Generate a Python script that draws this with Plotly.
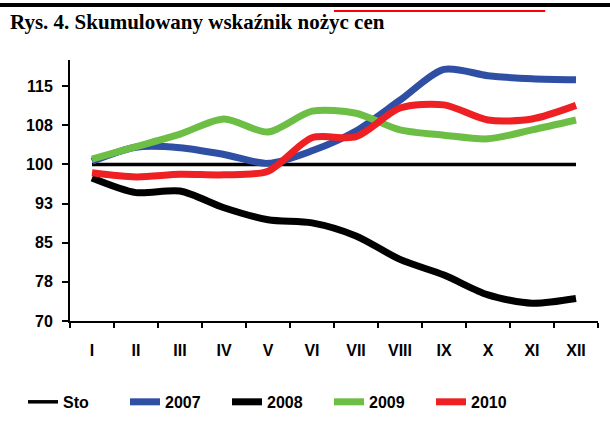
import plotly.graph_objects as go

months = ["I", "II", "III", "IV", "V", "VI", "VII", "VIII", "IX", "X", "XI", "XII"]
sto = [100] * 12
s2007 = [100.6, 103.3, 103.2, 101.9, 100.2, 102.6, 106.4, 112.3, 118.2, 117.0, 116.4, 116.2]
s2008 = [97.4, 94.6, 94.9, 91.7, 89.4, 88.8, 86.3, 81.8, 78.8, 75.0, 73.4, 74.3]
s2009 = [101.0, 103.4, 105.8, 108.7, 106.2, 110.2, 109.8, 106.6, 105.6, 104.9, 106.6, 108.5]
s2010 = [98.4, 97.6, 98.1, 98.0, 98.7, 105.1, 105.3, 110.8, 111.4, 108.5, 108.7, 111.3]

ytick_vals = [70, 77.5, 85, 92.5, 100, 107.5, 115]
ytick_text = ["70", "78", "85", "93", "100", "108", "115"]

series = [
    ("Sto", sto, "#000000", 3.5),
    ("2007", s2007, "#2E4FA3", 7),
    ("2008", s2008, "#000000", 7),
    ("2009", s2009, "#6CBE45", 7),
    ("2010", s2010, "#EE2024", 7),
]

fig = go.Figure()
for name, vals, color, w in series:
    fig.add_trace(go.Scatter(
        x=months, y=vals, name=name, mode="lines",
        line=dict(color=color, width=w, shape="spline", smoothing=0.8),
    ))

font_ax = dict(family="Liberation Sans, Arial, sans-serif", size=16, color="#000000")

fig.update_layout(
    width=610, height=439,
    margin=dict(l=70, r=12, t=60, b=118),
    paper_bgcolor="white", plot_bgcolor="white",
    showlegend=True,
    title=dict(
        text="<b>Rys. 4. Skumulowany wskaźnik nożyc cen</b>",
        font=dict(family="Liberation Serif, Times New Roman, serif", size=21, color="#000000"),
        x=10 / 610, xref="container", xanchor="left",
        y=1 - 22 / 439, yref="container", yanchor="middle",
    ),
    legend=dict(
        orientation="h", x=-0.089, xanchor="left", y=-0.31, yanchor="middle",
        font=dict(family="Liberation Sans, Arial, sans-serif", size=16, color="#000000", weight="bold"),
        entrywidth=57, entrywidthmode="pixels",
        bgcolor="rgba(0,0,0,0)", traceorder="normal",
    ),
    xaxis=dict(
        type="category", range=[-0.5, 11.5],
        showline=True, linecolor="#000000", linewidth=2,
        ticks="outside", ticklen=5, tickwidth=2, tickcolor="#000000",
        tickson="boundaries", showgrid=False, zeroline=False,
        tickfont=dict(font_ax, weight="bold"), ticklabelstandoff=14,
    ),
    yaxis=dict(
        range=[70, 120], tickvals=ytick_vals, ticktext=ytick_text,
        showline=True, linecolor="#000000", linewidth=2,
        ticks="outside", ticklen=6, tickwidth=2, tickcolor="#000000",
        showgrid=False, zeroline=False,
        tickfont=dict(font_ax, weight="bold"), ticklabelstandoff=6,
    ),
    shapes=[
        dict(
            type="rect", xref="paper", yref="paper", layer="above",
            x0=-70 / 528, x1=540 / 528, y0=(321 - 7) / 261, y1=(321 - 3) / 261,
            fillcolor="#000000", line=dict(width=0),
        ),
        dict(
            type="rect", xref="paper", yref="paper", layer="above",
            x0=0.5, x1=0.9, y0=(321 - 12) / 261, y1=(321 - 10) / 261,
            fillcolor="#ff0000", line=dict(width=0),
        ),
    ],
)

fig.write_html(
    "out.html",
    config={"displayModeBar": False},
    post_script="document.body.style.margin='0';",
)
